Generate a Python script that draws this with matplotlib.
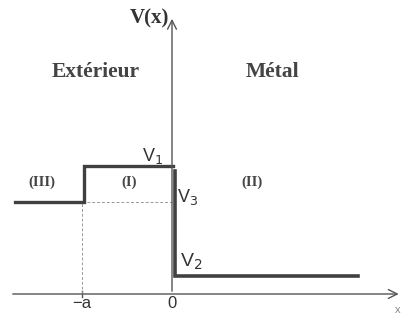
import matplotlib
matplotlib.use("Agg")
import matplotlib.pyplot as plt

# Data (arbitrary units, a = 1)
x_bounds = [-1.744, -1.0, 0.0, 2.067]   # left end, -a, 0, right end
V1, V2, V3 = 1.28, 0.17, 0.92
region_labels = ["(III)", "(I)", "(II)"]
tick_labels = ["\u2212a", "0"]

fig = plt.figure(figsize=(4.05, 3.22), dpi=100)
ax = fig.add_axes([0, 0, 1, 1])
ax.set_xlim(-172 / 90, (405 - 172) / 90)
ax.set_ylim((294 - 322) / 100, 294 / 100)
ax.axis("off")

dark = "#404040"
axis_c = "#555555"

# axes arrows
ax.annotate("", xy=(2.55, 0), xytext=(-1.80, 0),
            arrowprops=dict(arrowstyle="->", color=axis_c, lw=1.0, mutation_scale=16))
ax.annotate("", xy=(0, 2.78), xytext=(0, 0),
            arrowprops=dict(arrowstyle="->", color=axis_c, lw=1.0, mutation_scale=16))
# tick at -a
ax.plot([-1.0, -1.0], [-0.03, 0.03], color=axis_c, lw=1.0)

# dashed guides
ax.plot([-1.0, 0.0], [V3, V3], ls=(0, (3, 2)), color="#999999", lw=0.7)
ax.plot([-1.0, -1.0], [0, V3], ls=(0, (3, 2)), color="#999999", lw=0.7)

# potential profile
xl, xa, x0, xr = x_bounds
ax.plot([xl, xa + 0.02, xa + 0.02, x0 + 0.01], [V3, V3, V1, V1], color=dark, lw=2.4,
        solid_joinstyle="miter")
ax.plot([x0 + 0.03, x0 + 0.03, xr], [V1 - 0.05, V2 + 0.01, V2 + 0.01], color=dark, lw=2.6,
        solid_joinstyle="miter")

serif = "Liberation Serif"
sans = "Liberation Sans"
tc = "#333333"
ax.text(-0.03, 2.76, "V(x)", family=serif, fontweight="bold", fontsize=15, color=tc,
        ha="right", va="center")
ax.text((96 - 172) / 90, (294 - 72) / 100, "Extérieur", family=serif, fontweight="bold",
        fontsize=15.5, color="#444444", ha="center", va="center")
ax.text((272 - 172) / 90, (294 - 72) / 100, "Métal", family=serif, fontweight="bold",
        fontsize=15.5, color="#444444", ha="center", va="center")
for lab, px in zip(region_labels, [42, 129, 252]):
    ax.text((px - 172) / 90, (294 - 182) / 100, lab, family=serif, fontweight="bold",
            fontsize=10.5, color="#444444", ha="center", va="center")
ax.text((153 - 172) / 90, (294 - 156) / 100, "V$_1$", family=sans, fontsize=13, color=tc,
        ha="center", va="center")
ax.text((188 - 172) / 90, (294 - 197) / 100, "V$_3$", family=sans, fontsize=13, color=tc,
        ha="center", va="center")
ax.text((191 - 172) / 90, (294 - 262) / 100, "V$_2$", family=sans, fontsize=14, color=tc,
        ha="center", va="center")
for lab, xv in zip(tick_labels, [-1.0, 0.0]):
    ax.text(xv, (294 - 304) / 100, lab, family=sans, fontsize=12, color=tc,
            ha="center", va="center")
ax.text((398 - 172) / 90, (294 - 310) / 100, "x", family=sans, fontsize=8, color="#888888",
        ha="center", va="center")

fig.savefig("out.png", dpi=100, facecolor="white")
